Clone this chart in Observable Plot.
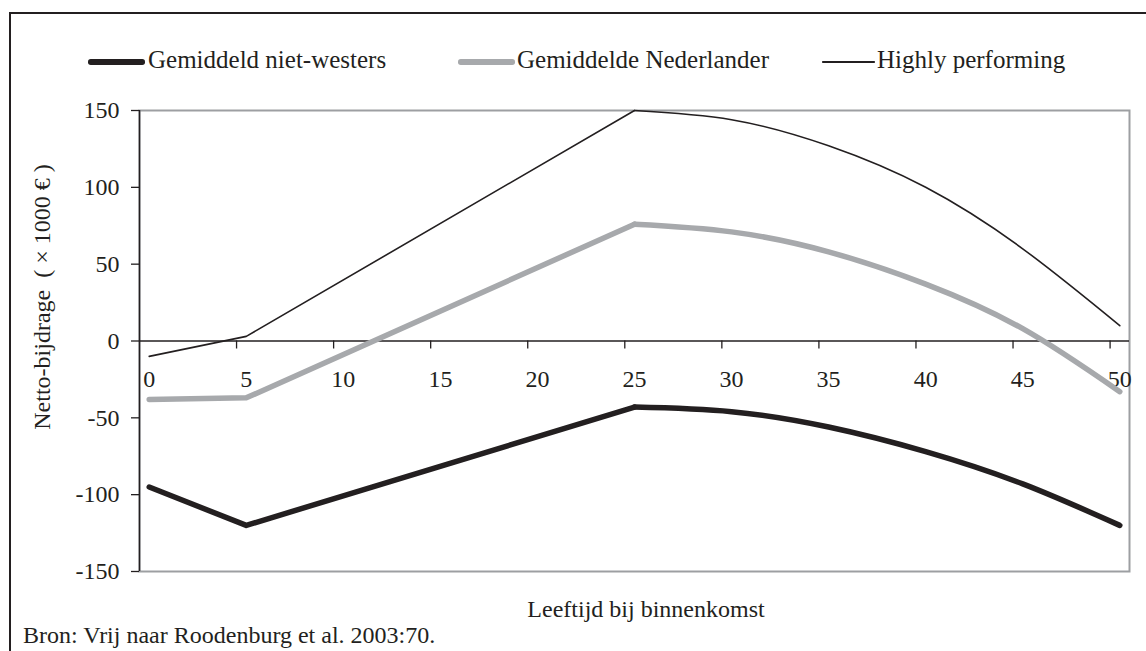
<!DOCTYPE html>
<html>
<head>
<meta charset="utf-8">
<script src="https://cdn.jsdelivr.net/npm/d3@7"></script>
<script src="https://cdn.jsdelivr.net/npm/@observablehq/plot@0.6"></script>
<style>
  body { margin: 0; background: #fff; }
  #wrap { position: relative; width: 1146px; height: 651px; overflow: hidden;
          font-family: "Liberation Serif", "Times New Roman", serif; color: #231f20; }
  #box { position: absolute; left: 9px; top: 12px; width: 2000px; height: 2000px;
         border-top: 2px solid #231f20; border-left: 2px solid #231f20; }
  #chart { position: absolute; left: 0; top: 0; }
  .t { position: absolute; white-space: pre; font-size: 24px; line-height: 1; }
  .sw { position: absolute; height: 0; }
</style>
</head>
<body>
<div id="wrap">
  <div id="box"></div>
  <div id="chart"></div>
  <div id="legend"></div>
  <div class="t" id="ytitle"></div>
  <div class="t" id="xtitle"></div>
  <div class="t" id="source"></div>
</div>
<script>
// ---- data ----
const ages = [0, 5, 25, 30, 35, 40, 45, 50];
const nietWesters = [-95, -120, -43, -46, -56, -72, -93, -120];
const nederlander = [-38, -37, 76, 71, 58, 37, 8, -33];
const highly = [-10, 3, 150, 144, 127, 100, 60, 10];
const seriesNames = ["Gemiddeld niet-westers", "Gemiddelde Nederlander", "Highly performing"];
const yTicks = [-150, -100, -50, 0, 50, 100, 150];
const xLabels = [0, 5, 10, 15, 20, 25, 30, 35, 40, 45, 50];
const yTitle = "Netto-bijdrage  ( \u00d7 1000 \u20ac )";
const xTitle = "Leeftijd bij binnenkomst";
const sourceText = "Bron: Vrij naar Roodenburg et al. 2003:70.";

// ---- styles ----
const styles = [
  { stroke: "#231f20", width: 5.5 },
  { stroke: "#a7a9ac", width: 5.5 },
  { stroke: "#231f20", width: 1.6 }
];
const seriesValues = [nietWesters, nederlander, highly];

const lineMarks = [];
seriesValues.forEach((vals, s) => {
  const rows = ages.map((a, i) => ({ age: a, value: vals[i] }));
  const rise = rows.filter(d => d.age <= 25);
  const fall = rows.filter(d => d.age >= 25);
  const opts = { x: "age", y: "value", stroke: styles[s].stroke, strokeWidth: styles[s].width,
                 strokeLinecap: "round", strokeLinejoin: "round" };
  lineMarks.push(Plot.line(rise, opts));
  lineMarks.push(Plot.line(fall, { ...opts, curve: "natural" }));
});

const tickEdges = xLabels.filter(d => d > 0).map(d => ({ edge: d - 0.5 }));
const labelRows = xLabels.map(d => ({ age: d, text: String(d) }));

const chart = Plot.plot({
  width: 1146,
  height: 651,
  marginLeft: 139,
  marginRight: 17,
  marginTop: 110,
  marginBottom: 80,
  style: { fontFamily: "Liberation Serif, Times New Roman, serif", fontSize: "24px", color: "#231f20", background: "transparent" },
  x: { domain: [-0.5, 50.5], axis: null },
  y: { domain: [-150, 150] },
  marks: [
    Plot.frame({ stroke: "#9d9fa2", strokeWidth: 2 }),
    Plot.axisY(yTicks, { tickSize: 8, tickPadding: 12, fontSize: 24, label: null, strokeWidth: 1.3,
                         tickFormat: d => String(d) }),
    Plot.ruleX([-0.5], { stroke: "#231f20", strokeWidth: 1.5 }),
    Plot.ruleY([0], { stroke: "#231f20", strokeWidth: 1.5 }),
    Plot.ruleX(tickEdges, { x: "edge", y1: () => 0, y2: () => 0, insetBottom: -8, stroke: "#231f20", strokeWidth: 1.3 }),
    Plot.text(labelRows, { x: "age", y: () => 0, text: "text", dy: 38, fontSize: 24, fill: "#231f20" }),
    ...lineMarks
  ]
});
document.getElementById("chart").appendChild(chart);

// ---- legend ----
const legendPos = [
  { x1: 88, x2: 145, tx: 148 },
  { x1: 458, x2: 515, tx: 517 },
  { x1: 822, x2: 875, tx: 877 }
];
const legend = document.getElementById("legend");
seriesNames.forEach((name, i) => {
  const p = legendPos[i], st = styles[i];
  const sw = document.createElement("div");
  sw.className = "sw";
  sw.style.left = p.x1 + "px";
  sw.style.width = (p.x2 - p.x1) + "px";
  sw.style.top = (62 - st.width / 2) + "px";
  sw.style.height = st.width + "px";
  sw.style.background = st.stroke;
  sw.style.borderRadius = (st.width / 2) + "px";
  legend.appendChild(sw);
  const t = document.createElement("div");
  t.className = "t";
  t.style.left = p.tx + "px";
  t.style.top = "47px";
  t.style.fontSize = "25px";
  t.textContent = name;
  legend.appendChild(t);
});

const yt = document.getElementById("ytitle");
yt.textContent = yTitle;
yt.style.left = "42px"; yt.style.top = "297px";
yt.style.transform = "translate(-50%,-50%) rotate(-90deg)";

const xt = document.getElementById("xtitle");
xt.textContent = xTitle;
xt.style.left = "646px"; xt.style.top = "597px";
xt.style.transform = "translateX(-50%)";

const src = document.getElementById("source");
src.textContent = sourceText;
src.style.left = "23px"; src.style.top = "623px";
</script>
</body>
</html>
